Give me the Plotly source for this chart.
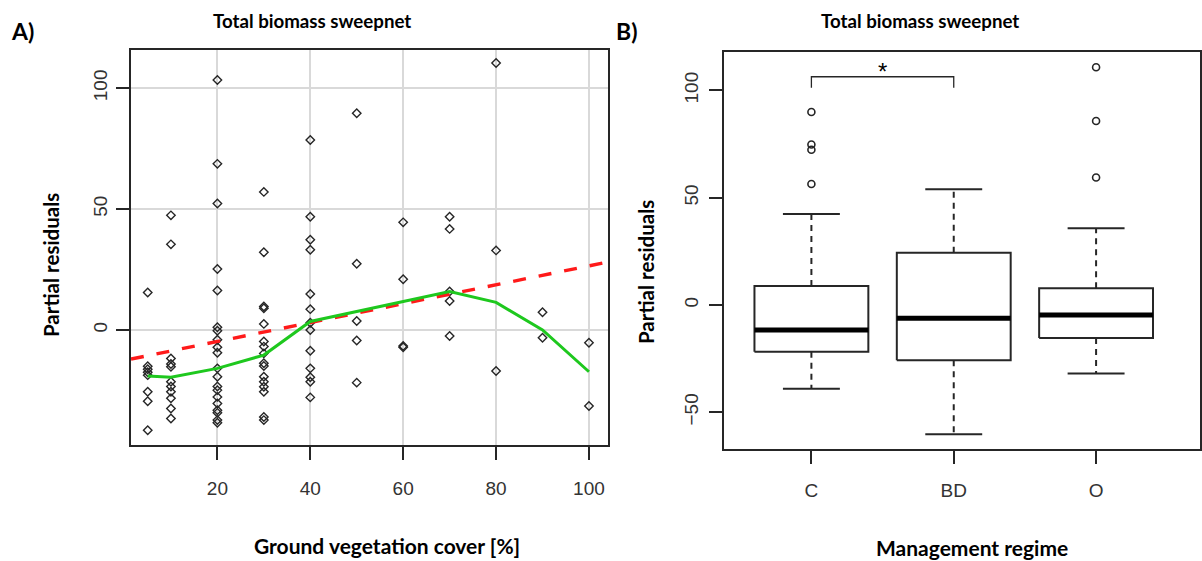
import plotly.graph_objects as go

# ---------------- Panel A data ----------------
cover_pct = ([5]*8 + [10]*11 + [20]*20 + [30]*16 + [40]*13 + [50]*5 + [60]*4
             + [70]*5 + [80]*3 + [90]*2 + [100]*2)
residual = [
    15.5, -15.0, -16.3, -17.5, -18.7, -25.6, -29.5, -41.5,
    47.4, 35.4, -11.8, -14.1, -15.2, -21.4, -23.4, -25.6, -28.3, -32.5, -36.6,
    103.4, 68.7, 52.3, 25.2, 16.3, 1.1, -0.3, -4.1, -7.2, -9.4, -15.9, -19.4,
    -23.4, -24.9, -27.7, -30.4, -33.2, -34.3, -37.3, -38.4,
    57.1, 32.1, 9.7, 9.0, 2.5, -4.8, -6.9, -9.7, -13.8, -14.9, -19.4, -21.4,
    -23.5, -25.6, -36.0, -37.3,
    78.6, 46.8, 37.3, 33.2, 14.9, 8.6, 3.0, 0.0, -8.6, -15.9, -19.6, -21.4, -27.9,
    89.6, 27.4, 3.7, -4.4, -21.8,
    44.5, 21.0, -6.6, -7.2,
    46.8, 41.8, 15.9, 12.0, -2.5,
    110.4, 32.9, -17.0,
    7.3, -3.2,
    -5.3, -31.5,
]
smooth_x = [5, 10, 20, 30, 40, 50, 60, 70, 80, 90, 100]
smooth_y = [-19.1, -19.6, -15.9, -10.4, 3.5, 7.6, 12.0, 15.9, 11.4, 0.0, -17.3]
fit_intercept = -12.6
fit_slope = 0.391

# ---------------- Panel B data ----------------
regimes = ["C", "BD", "O"]
q1 = [-21.8, -25.8, -15.4]
median = [-11.7, -6.2, -4.7]
q3 = [8.8, 24.4, 7.8]
whisker_low = [-39.1, -60.3, -32.0]
whisker_high = [42.4, 54.0, 35.8]
outlier_group = [1, 1, 1, 1, 3, 3, 3]
outlier_value = [90.0, 74.8, 72.4, 56.4, 110.8, 85.8, 59.4]
sig_pair = (1, 2)
sig_y = (101.3, 106.4)

INK = "#262626"
TICKC = "#333333"
TICKFONT = dict(family="Liberation Sans, Arial", size=19, color=TICKC)
BOLD = "Lato, Open Sans, sans-serif"

W, H = 1202, 561
def px(x):
    return x / W
def py(y):
    return 1 - y / H

fig = go.Figure()

# Panel A
xr_a = [1.4, 104.1]
fig.add_trace(go.Scatter(
    x=cover_pct, y=residual, mode="markers", xaxis="x", yaxis="y",
    marker=dict(symbol="diamond-open", size=6.5, color=INK, line=dict(width=1.4, color=INK)),
    showlegend=False, hoverinfo="skip"))
fig.add_trace(go.Scatter(
    x=xr_a, y=[fit_intercept + fit_slope * v for v in xr_a], mode="lines",
    xaxis="x", yaxis="y", line=dict(color="#ff1a1a", width=3.4, dash="13px,13px"),
    showlegend=False, hoverinfo="skip"))
fig.add_trace(go.Scatter(
    x=smooth_x, y=smooth_y, mode="lines", xaxis="x", yaxis="y",
    line=dict(color="#1ec81e", width=3), showlegend=False, hoverinfo="skip"))

# Panel B boxes
hw, cw = 0.4, 0.2
for i in range(len(regimes)):
    g = i + 1
    fig.add_trace(go.Scatter(
        x=[g-hw, g+hw, g+hw, g-hw, g-hw], y=[q1[i], q1[i], q3[i], q3[i], q1[i]],
        mode="lines", xaxis="x2", yaxis="y2", line=dict(color=INK, width=2),
        showlegend=False, hoverinfo="skip"))
    fig.add_trace(go.Scatter(
        x=[g-hw, g+hw], y=[median[i], median[i]], mode="lines", xaxis="x2", yaxis="y2",
        line=dict(color="#000000", width=5), showlegend=False, hoverinfo="skip"))
    for a, b in ((q3[i], whisker_high[i]), (q1[i], whisker_low[i])):
        fig.add_trace(go.Scatter(
            x=[g, g], y=[a, b], mode="lines", xaxis="x2", yaxis="y2",
            line=dict(color=INK, width=2, dash="6px,5px"), showlegend=False, hoverinfo="skip"))
        fig.add_trace(go.Scatter(
            x=[g-cw, g+cw], y=[b, b], mode="lines", xaxis="x2", yaxis="y2",
            line=dict(color=INK, width=2), showlegend=False, hoverinfo="skip"))
fig.add_trace(go.Scatter(
    x=outlier_group, y=outlier_value, mode="markers", xaxis="x2", yaxis="y2",
    marker=dict(symbol="circle-open", size=7, color=INK, line=dict(width=1.6, color=INK)),
    showlegend=False, hoverinfo="skip"))
fig.add_trace(go.Scatter(
    x=[sig_pair[0], sig_pair[0], sig_pair[1], sig_pair[1]],
    y=[sig_y[0], sig_y[1], sig_y[1], sig_y[0]], mode="lines", xaxis="x2", yaxis="y2",
    line=dict(color=INK, width=1.3), showlegend=False, hoverinfo="skip"))

axis_common = dict(showline=True, linecolor=INK, linewidth=1.6, mirror=True,
                   ticks="outside", ticklen=13, tickwidth=1.6, tickcolor=INK,
                   tickfont=TICKFONT, zeroline=False)

fig.update_layout(
    width=W, height=H, margin=dict(l=0, r=0, t=0, b=0),
    paper_bgcolor="white", plot_bgcolor="white",
    xaxis=dict(domain=[px(131), px(608)], range=xr_a, tickvals=[20, 40, 60, 80, 100],
               showgrid=True, gridcolor="#d9d9d9", gridwidth=1.6, anchor="y",
               ticklabelstandoff=12, **axis_common),
    yaxis=dict(domain=[py(445), py(50)], range=[-47.6, 115.8], tickvals=[0, 50, 100],
               showgrid=True, gridcolor="#d9d9d9", gridwidth=1.6, tickangle=-90, anchor="x",
               ticklabelstandoff=2, **axis_common),
    xaxis2=dict(domain=[px(724), px(1200)], range=[0.386, 3.73], tickvals=[1, 2, 3],
                ticktext=regimes, showgrid=False, anchor="y2", ticklabelstandoff=11,
                **axis_common),
    yaxis2=dict(domain=[py(448.7), py(52.3)], range=[-67.0, 117.8], tickvals=[-50, 0, 50, 100],
                showgrid=False, tickangle=-90, anchor="x2", ticklabelstandoff=4,
                **axis_common),
)

def ann(text, x, y, size, angle=0, xanchor="center", yanchor="middle", family=BOLD, bold=True):
    fig.add_annotation(text=("<b>%s</b>" % text) if bold else text, x=px(x), y=py(y),
                       xref="paper", yref="paper", showarrow=False, textangle=angle,
                       xanchor=xanchor, yanchor=yanchor,
                       font=dict(family=family, size=size, color="#000000"))

ann("A)", 9, 31, 23, xanchor="left")
ann("B)", 614, 31, 23, xanchor="left")
ann("Total biomass sweepnet", 312, 21, 18.7)
ann("Total biomass sweepnet", 920, 21, 18.7)
ann("Partial residuals", 51, 265, 20.5, angle=-90)
ann("Partial residuals", 646, 272, 20.5, angle=-90)
ann("Ground vegetation cover [%]", 387, 545, 21)
ann("Management regime", 972, 547, 21)
fig.add_annotation(text="*", x=1.5, y=109, xref="x2", yref="y2", showarrow=False,
                   font=dict(family="Liberation Sans, Arial", size=24, color="#000000"),
                   yanchor="middle")

fig.write_html("out.html", config={"displayModeBar": False},
               post_script="document.body.style.margin='0px';")
